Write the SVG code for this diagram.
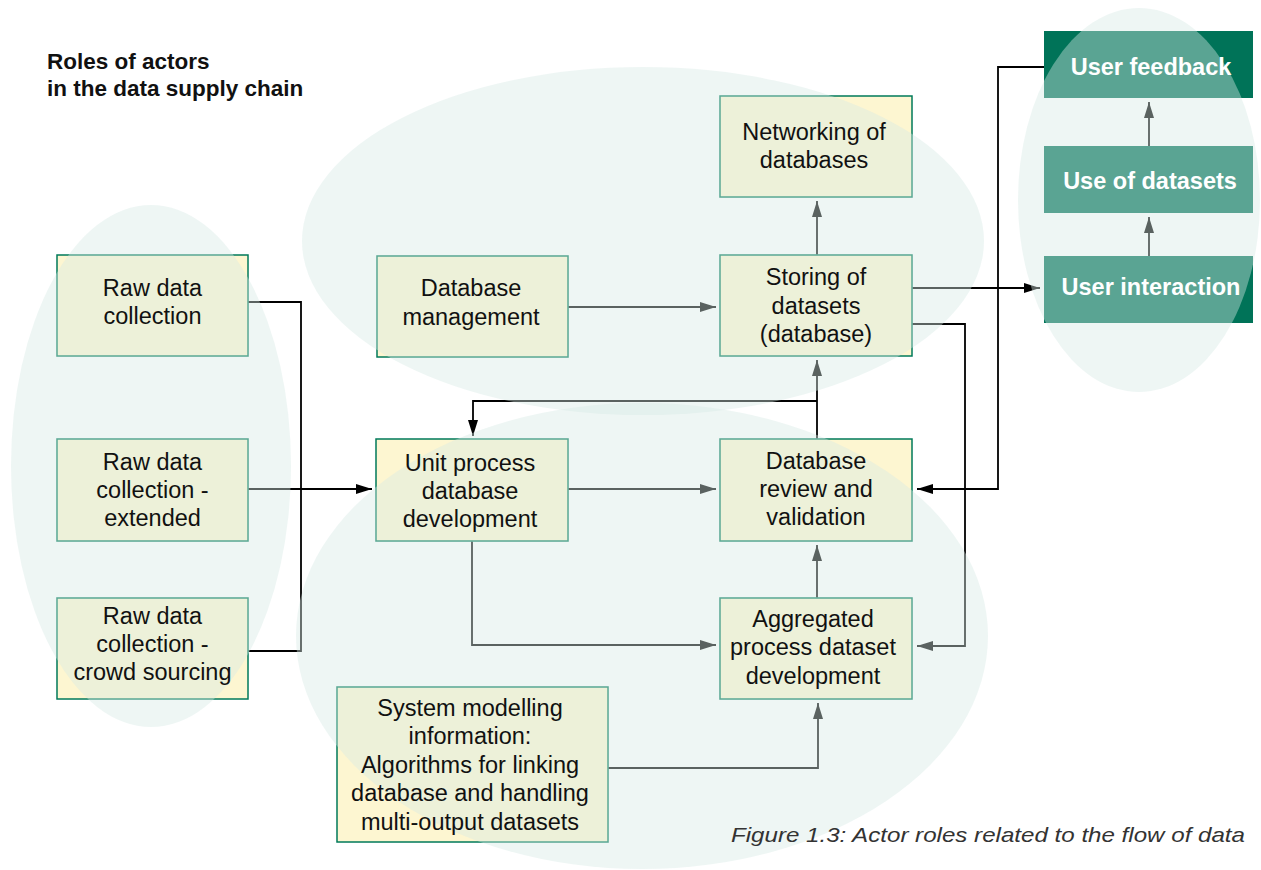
<svg xmlns="http://www.w3.org/2000/svg" xmlns:xlink="http://www.w3.org/1999/xlink" width="1261" height="870" viewBox="0 0 1261 870">
  <style>
    .box { fill: #fdf6d1; stroke: #007a5a; stroke-width: 1.5; }
    .gbox { fill: #007358; }
    .lbl { font-family: "Liberation Sans", Arial, sans-serif; font-size: 23.5px; fill: #111; text-anchor: middle; }
    .glbl { font-family: "Liberation Sans", Arial, sans-serif; font-size: 23.5px; font-weight: bold; fill: #fff; text-anchor: middle; }
    .title { font-family: "Liberation Sans", Arial, sans-serif; font-size: 22.5px; font-weight: bold; fill: #111; }
    .cap { font-family: "Liberation Sans", Arial, sans-serif; font-size: 21px; font-style: italic; fill: #333; }
    .ln { fill: none; stroke: #000; stroke-width: 1.8; }
    .blob { fill: rgb(214,233,228); fill-opacity: 0.42; }
  </style>
  <defs>
    <marker id="ah" markerUnits="userSpaceOnUse" markerWidth="18" markerHeight="12" refX="16" refY="5" orient="auto">
      <path d="M0,0 L16,5 L0,10 z" fill="#000"/>
    </marker>
    <clipPath id="c1"><rect x="56" y="254" width="193" height="103"/></clipPath>
    <clipPath id="c2"><rect x="56" y="438" width="193" height="104"/></clipPath>
    <clipPath id="c3"><rect x="56" y="597" width="193" height="103"/></clipPath>
    <clipPath id="c4"><rect x="376" y="255" width="193" height="103"/></clipPath>
    <clipPath id="c5"><rect x="719" y="95" width="194" height="103"/></clipPath>
    <clipPath id="c6"><rect x="719" y="254" width="194" height="103"/></clipPath>
    <clipPath id="c7"><rect x="375" y="438" width="194" height="104"/></clipPath>
    <clipPath id="c8"><rect x="719" y="438" width="194" height="104"/></clipPath>
    <clipPath id="c9"><rect x="719" y="597" width="194" height="103"/></clipPath>
    <clipPath id="c10"><rect x="336" y="686" width="273" height="157"/></clipPath>
    <clipPath id="c11"><rect x="1044" y="31" width="209" height="67"/></clipPath>
    <clipPath id="c12"><rect x="1044" y="146" width="209" height="67"/></clipPath>
    <clipPath id="c13"><rect x="1044" y="256" width="209" height="67"/></clipPath>
  </defs>

  <rect x="0" y="0" width="1261" height="870" fill="#fff"/>

  <g id="title">
    <text class="title" x="47" y="69">Roles of actors</text>
    <text class="title" x="47" y="96">in the data supply chain</text>
  </g>

  <g id="connectors">
    <path class="ln" d="M248,302 H301 V651 H248"/>
    <path class="ln" d="M248,489 H372" marker-end="url(#ah)"/>
    <path class="ln" d="M568,307 H716" marker-end="url(#ah)"/>
    <path class="ln" d="M817,255 V201" marker-end="url(#ah)"/>
    <path class="ln" d="M817,439 V360" marker-end="url(#ah)"/>
    <path class="ln" d="M817,401 H473 V436" marker-end="url(#ah)"/>
    <path class="ln" d="M568,489 H716" marker-end="url(#ah)"/>
    <path class="ln" d="M817,598 V545" marker-end="url(#ah)"/>
    <path class="ln" d="M472,541 V645 H716" marker-end="url(#ah)"/>
    <path class="ln" d="M608,768 H818 V703" marker-end="url(#ah)"/>
    <path class="ln" d="M912,288 H1040" marker-end="url(#ah)"/>
    <path class="ln" d="M912,324 H965 V646 H917" marker-end="url(#ah)"/>
    <path class="ln" d="M1044,67 H998 V489 H917" marker-end="url(#ah)"/>
    <path class="ln" d="M1149,256 V217" marker-end="url(#ah)"/>
    <path class="ln" d="M1149,146 V102" marker-end="url(#ah)"/>
  </g>

  <g id="blobs">
    <ellipse class="blob" cx="151" cy="466" rx="140" ry="261"/>
    <ellipse class="blob" cx="643" cy="241" rx="341" ry="174"/>
    <ellipse class="blob" cx="642" cy="636" rx="346" ry="233"/>
    <ellipse class="blob" cx="1139" cy="200" rx="121" ry="192"/>
  </g>

  <g id="raw-data-collection">
    <rect class="box" x="57" y="255" width="191" height="101"/>
    <use xlink:href="#blobs" href="#blobs" clip-path="url(#c1)"/>
    <text class="lbl" x="152.5" y="296">Raw data</text>
    <text class="lbl" x="152.5" y="324">collection</text>
  </g>

  <g id="raw-data-extended">
    <rect class="box" x="57" y="439" width="191" height="102"/>
    <use xlink:href="#blobs" href="#blobs" clip-path="url(#c2)"/>
    <text class="lbl" x="152.5" y="470">Raw data</text>
    <text class="lbl" x="152.5" y="498">collection -</text>
    <text class="lbl" x="152.5" y="526">extended</text>
  </g>

  <g id="raw-data-crowd">
    <rect class="box" x="57" y="598" width="191" height="101"/>
    <use xlink:href="#blobs" href="#blobs" clip-path="url(#c3)"/>
    <text class="lbl" x="152.5" y="624">Raw data</text>
    <text class="lbl" x="152.5" y="652">collection -</text>
    <text class="lbl" x="152.5" y="680">crowd sourcing</text>
  </g>

  <g id="database-management">
    <rect class="box" x="377" y="256" width="191" height="101"/>
    <use xlink:href="#blobs" href="#blobs" clip-path="url(#c4)"/>
    <text class="lbl" x="471" y="296">Database</text>
    <text class="lbl" x="471" y="325">management</text>
  </g>

  <g id="networking">
    <rect class="box" x="720" y="96" width="192" height="101"/>
    <use xlink:href="#blobs" href="#blobs" clip-path="url(#c5)"/>
    <text class="lbl" x="814" y="140">Networking of</text>
    <text class="lbl" x="814" y="168">databases</text>
  </g>

  <g id="storing">
    <rect class="box" x="720" y="255" width="192" height="101"/>
    <use xlink:href="#blobs" href="#blobs" clip-path="url(#c6)"/>
    <text class="lbl" x="816" y="285">Storing of</text>
    <text class="lbl" x="816" y="314">datasets</text>
    <text class="lbl" x="816" y="342">(database)</text>
  </g>

  <g id="unit-process">
    <rect class="box" x="376" y="439" width="192" height="102"/>
    <use xlink:href="#blobs" href="#blobs" clip-path="url(#c7)"/>
    <text class="lbl" x="470" y="471">Unit process</text>
    <text class="lbl" x="470" y="499">database</text>
    <text class="lbl" x="470" y="527">development</text>
  </g>

  <g id="review">
    <rect class="box" x="720" y="439" width="192" height="102"/>
    <use xlink:href="#blobs" href="#blobs" clip-path="url(#c8)"/>
    <text class="lbl" x="816" y="469">Database</text>
    <text class="lbl" x="816" y="497">review and</text>
    <text class="lbl" x="816" y="525">validation</text>
  </g>

  <g id="aggregated">
    <rect class="box" x="720" y="598" width="192" height="101"/>
    <use xlink:href="#blobs" href="#blobs" clip-path="url(#c9)"/>
    <text class="lbl" x="813" y="627">Aggregated</text>
    <text class="lbl" x="813" y="655">process dataset</text>
    <text class="lbl" x="813" y="684">development</text>
  </g>

  <g id="system-modelling">
    <rect class="box" x="337" y="687" width="271" height="155"/>
    <use xlink:href="#blobs" href="#blobs" clip-path="url(#c10)"/>
    <text class="lbl" x="470" y="716">System modelling</text>
    <text class="lbl" x="470" y="744">information:</text>
    <text class="lbl" x="470" y="773">Algorithms for linking</text>
    <text class="lbl" x="470" y="801">database and handling</text>
    <text class="lbl" x="470" y="830">multi-output datasets</text>
  </g>

  <g id="user-feedback">
    <rect class="gbox" x="1044" y="31" width="209" height="67"/>
    <use xlink:href="#blobs" href="#blobs" clip-path="url(#c11)"/>
    <text class="glbl" x="1151" y="75">User feedback</text>
  </g>

  <g id="use-of-datasets">
    <rect class="gbox" x="1044" y="146" width="209" height="67"/>
    <use xlink:href="#blobs" href="#blobs" clip-path="url(#c12)"/>
    <text class="glbl" x="1150" y="189">Use of datasets</text>
  </g>

  <g id="user-interaction">
    <rect class="gbox" x="1044" y="256" width="209" height="67"/>
    <use xlink:href="#blobs" href="#blobs" clip-path="url(#c13)"/>
    <text class="glbl" x="1151" y="295">User interaction</text>
  </g>

  <g id="caption">
    <text class="cap" x="731" y="842" textLength="514" lengthAdjust="spacingAndGlyphs">Figure 1.3: Actor roles related to the flow of data</text>
  </g>
</svg>
